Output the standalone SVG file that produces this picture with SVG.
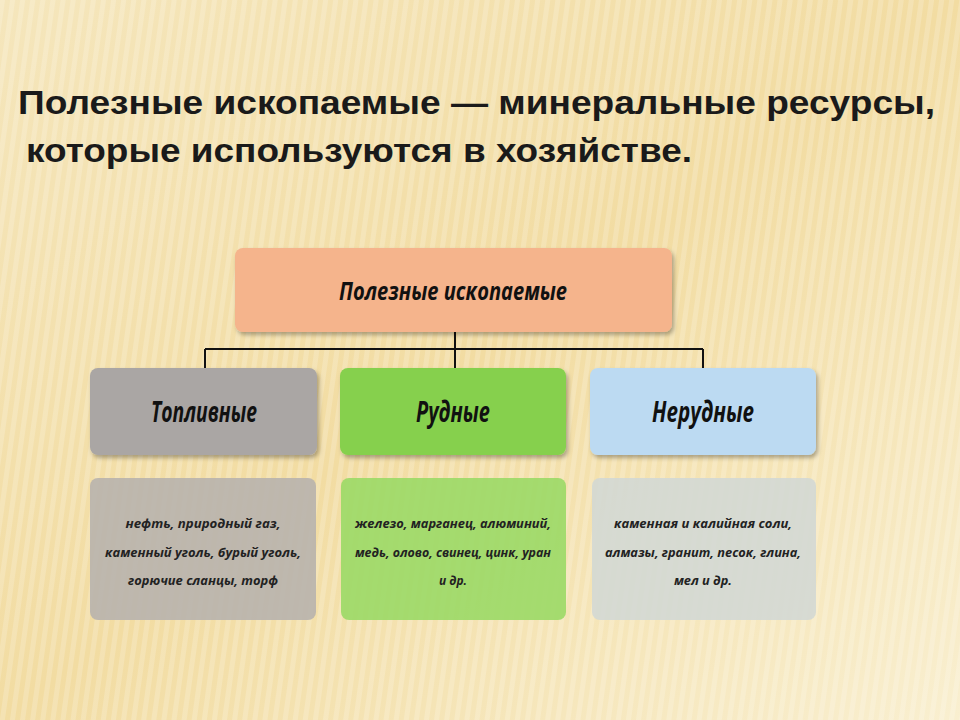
<svg xmlns="http://www.w3.org/2000/svg" width="960" height="720" viewBox="0 0 960 720">
<defs>
<linearGradient id="bg" x1="0" y1="0" x2="1" y2="1">
<stop offset="0" stop-color="#f5e6bc"/><stop offset="0.5" stop-color="#f2dca2"/><stop offset="1" stop-color="#f9efd0"/>
</linearGradient>
<pattern id="st" width="10" height="10" patternUnits="userSpaceOnUse" patternTransform="rotate(8)">
<rect width="5" height="10" fill="#ffffff" opacity="0.18"/>
</pattern>
<filter id="sh" x="-5%" y="-5%" width="110%" height="115%"><feDropShadow dx="2" dy="3" stdDeviation="2" flood-opacity="0.3"/></filter>
</defs>
<style>
.t{font-family:"Liberation Sans",Arial,sans-serif;font-weight:bold;font-size:34px;fill:#1a1a1a}
.h{font-family:"Open Sans","Liberation Sans",sans-serif;font-style:italic;font-weight:bold;fill:#111;text-anchor:middle}
.s{font-family:"Open Sans","Liberation Sans",sans-serif;font-style:italic;font-weight:bold;font-size:13px;fill:#222;text-anchor:middle}
.c{stroke:#111;stroke-width:2;fill:none}
</style>
<rect width="960" height="720" fill="url(#bg)"/>
<rect width="960" height="720" fill="url(#st)"/>
<text class="t" x="18" y="114" textLength="917" lengthAdjust="spacingAndGlyphs">Полезные ископаемые — минеральные ресурсы,</text>
<text class="t" x="26" y="162" textLength="666" lengthAdjust="spacingAndGlyphs">которые используются в хозяйстве.</text>
<g id="connectors">
<path class="c" d="M455 332V370M205 349H703M205 349V370M703 349V370"/>
</g>
<g id="root"><rect x="235" y="248" width="437" height="84" rx="8" fill="#f5b48c" filter="url(#sh)"/>
<text class="h" x="453" y="300" font-size="25" textLength="228" lengthAdjust="spacingAndGlyphs">Полезные ископаемые</text></g>
<g id="fuel"><rect x="90" y="368" width="227" height="87" rx="8" fill="#aaa6a4" filter="url(#sh)"/>
<text class="h" x="204" y="422" font-size="28" textLength="106" lengthAdjust="spacingAndGlyphs">Топливные</text></g>
<g id="ore"><rect x="340" y="368" width="226" height="87" rx="8" fill="#86d04e" filter="url(#sh)"/>
<text class="h" x="453" y="422" font-size="28" textLength="74" lengthAdjust="spacingAndGlyphs">Рудные</text></g>
<g id="nonore"><rect x="590" y="368" width="226" height="87" rx="8" fill="#bcdaf2" filter="url(#sh)"/>
<text class="h" x="703" y="422" font-size="28" textLength="102" lengthAdjust="spacingAndGlyphs">Нерудные</text></g>
<g id="fuel-list"><rect x="90" y="478" width="226" height="142" rx="8" fill="#b8b3ad" opacity="0.9"/>
<text class="s" x="203" y="528" textLength="155" lengthAdjust="spacingAndGlyphs">нефть, природный газ,</text>
<text class="s" x="203" y="557" textLength="196" lengthAdjust="spacingAndGlyphs">каменный уголь, бурый уголь,</text>
<text class="s" x="203" y="585" textLength="150" lengthAdjust="spacingAndGlyphs">горючие сланцы, торф</text></g>
<g id="ore-list"><rect x="341" y="478" width="225" height="142" rx="8" fill="#9bd966" opacity="0.9"/>
<text class="s" x="453" y="528" textLength="196" lengthAdjust="spacingAndGlyphs">железо, марганец, алюминий,</text>
<text class="s" x="453" y="557" textLength="196" lengthAdjust="spacingAndGlyphs">медь, олово, свинец, цинк, уран</text>
<text class="s" x="453" y="585" textLength="28" lengthAdjust="spacingAndGlyphs">и др.</text></g>
<g id="nonore-list"><rect x="592" y="478" width="224" height="142" rx="8" fill="#d3d8d4" opacity="0.9"/>
<text class="s" x="703" y="528" textLength="178" lengthAdjust="spacingAndGlyphs">каменная и калийная соли,</text>
<text class="s" x="703" y="557" textLength="196" lengthAdjust="spacingAndGlyphs">алмазы, гранит, песок, глина,</text>
<text class="s" x="703" y="585" textLength="58" lengthAdjust="spacingAndGlyphs">мел и др.</text></g>
</svg>
